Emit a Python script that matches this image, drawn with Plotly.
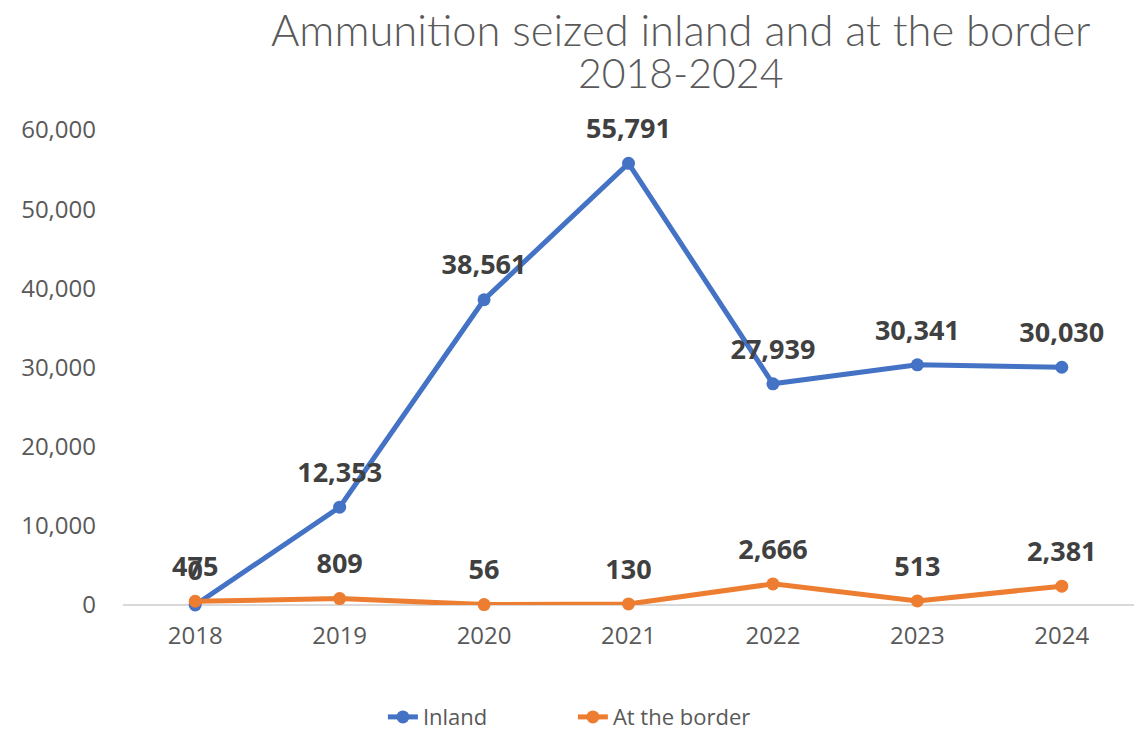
import plotly.graph_objects as go

years = ["2018", "2019", "2020", "2021", "2022", "2023", "2024"]
inland = [0, 12353, 38561, 55791, 27939, 30341, 30030]
border = [475, 809, 56, 130, 2666, 513, 2381]
y_ticks = [0, 10000, 20000, 30000, 40000, 50000, 60000]
title_lines = ["Ammunition seized inland and at the border", "2018-2024"]

series = [("Inland", inland, "#4472C4"), ("At the border", border, "#ED7D31")]

fig = go.Figure()
for name, vals, color in series:
    fig.add_trace(go.Scatter(
        x=years, y=vals, name=name, mode="lines+markers",
        line=dict(color=color, width=5),
        marker=dict(color=color, size=13),
        cliponaxis=False,
    ))

# data labels (invisible larger markers push labels up above the points)
for name, vals, color in series:
    fig.add_trace(go.Scatter(
        x=years, y=vals, mode="markers+text", showlegend=False, hoverinfo="skip",
        marker=dict(size=28, opacity=0),
        text=[f"{v:,}" for v in vals], textposition="top center",
        textfont=dict(family="Open Sans", size=27, color="#404040", weight="bold"),
        cliponaxis=False,
    ))

for line, ypos, fsize in zip(title_lines, [1.212, 1.121], [43.5, 41]):
    fig.add_annotation(
        text=line, xref="paper", yref="paper", x=0.551, xanchor="center",
        y=ypos, yanchor="middle", showarrow=False,
        font=dict(family="Lato", size=fsize, color="#595959", weight=300),
    )

fig.update_layout(
    width=1145, height=731,
    paper_bgcolor="white", plot_bgcolor="white",
    margin=dict(l=115, r=19, t=122, b=134, autoexpand=False),
    showlegend=True,
    legend=dict(orientation="h", x=0.445, xanchor="center", y=-0.236, yanchor="middle",
                font=dict(family="Open Sans", size=22, color="#595959"),
                traceorder="normal", entrywidth=145, entrywidthmode="pixels"),
    xaxis=dict(
        type="category", range=[-0.5, 6.5], showgrid=False, showline=False,
        zeroline=False, ticks="", tickfont=dict(family="Open Sans", size=24, color="#595959"),
        ticklabelstandoff=14,
    ),
    yaxis=dict(
        range=[0, 60000], tickvals=y_ticks, tickformat=",", showgrid=False,
        zeroline=True, zerolinecolor="#D9D9D9", zerolinewidth=2, showline=False,
        ticks="", tickfont=dict(family="Open Sans", size=24, color="#595959"),
        ticklabelstandoff=26,
    ),
)

fig.write_html("out.html")
